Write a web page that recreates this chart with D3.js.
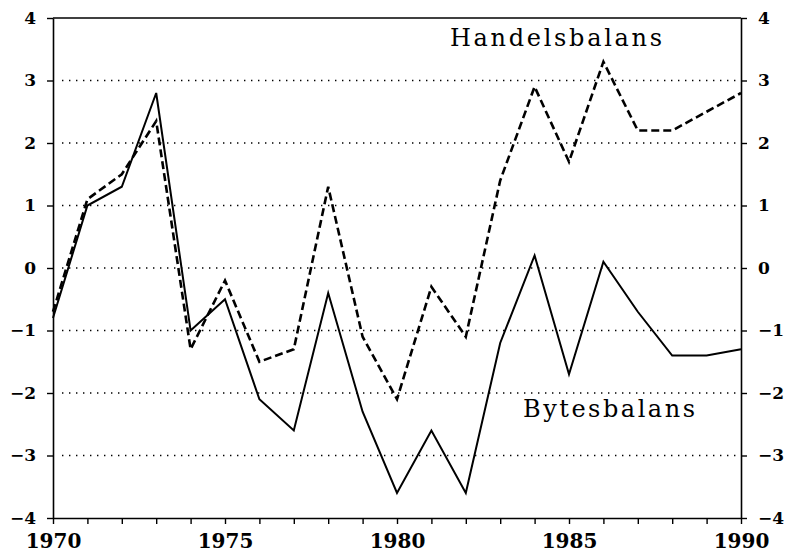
<!DOCTYPE html>
<html>
<head>
<meta charset="utf-8">
<script src="https://cdn.jsdelivr.net/npm/d3@7"></script>
<style>
  body { margin: 0; background: #fff; }
  svg { display: block; }
</style>
</head>
<body>
<div id="chart"></div>
<script>
// chart data
const years = d3.range(1970, 1991);
const bytesbalans = [-0.8, 1.0, 1.3, 2.8, -1.0, -0.5, -2.1, -2.6, -0.4, -2.3, -3.6,
                     -2.6, -3.6, -1.2, 0.2, -1.7, 0.1, -0.7, -1.4, -1.4, -1.3];
const handelsbalans = [-0.7, 1.1, 1.5, 2.35, -1.3, -0.2, -1.5, -1.3, 1.3, -1.1, -2.1,
                       -0.3, -1.1, 1.4, 2.9, 1.7, 3.3, 2.2, 2.2, 2.5, 2.8];
const yTicks = [-4, -3, -2, -1, 0, 1, 2, 3, 4];
const xLabels = [1970, 1975, 1980, 1985, 1990];

const width = 791, height = 555;
const margin = {top: 18, right: 50, bottom: 37, left: 53};
const w = width - margin.left - margin.right;
const h = height - margin.top - margin.bottom;

const svg = d3.select("#chart").append("svg")
    .attr("width", width)
    .attr("height", height);

const g = svg.append("g")
    .attr("transform", `translate(${margin.left},${margin.top})`);

const x = d3.scaleLinear().domain([1970, 1990]).range([0, w]);
const y = d3.scaleLinear().domain([-4, 4]).range([h, 0]);

// dotted grid
g.append("g")
    .selectAll("line")
    .data(yTicks.filter(d => d > -4 && d < 4))
    .enter().append("line")
    .attr("x1", 9).attr("x2", w)
    .attr("y1", d => y(d)).attr("y2", d => y(d))
    .attr("stroke", "#000")
    .attr("stroke-width", 1.4)
    .attr("stroke-dasharray", "1.4,5.6");

const fontFam = "'DejaVu Serif', 'Liberation Serif', serif";

// axes
const xAxis = g.append("g")
    .attr("transform", `translate(0,${h})`)
    .call(d3.axisBottom(x).tickValues(years).tickSize(6).tickSizeOuter(0)
        .tickFormat(d => xLabels.includes(d) ? d : ""));
xAxis.selectAll("text")
    .attr("dy", "1.05em")
    .style("font-family", fontFam)
    .style("font-weight", "bold")
    .style("font-size", "20px");

const yLeft = g.append("g")
    .call(d3.axisLeft(y).tickValues(yTicks).tickSize(6).tickSizeOuter(0)
        .tickFormat(d3.format("d")));
yLeft.selectAll("text")
    .attr("x", -17)
    .style("font-family", fontFam)
    .style("font-weight", "bold")
    .style("font-size", "17px");

const yRight = g.append("g")
    .attr("transform", `translate(${w},0)`)
    .call(d3.axisRight(y).tickValues(yTicks).tickSize(6).tickSizeOuter(0)
        .tickFormat(d3.format("d")));
yRight.selectAll("text")
    .attr("x", 17)
    .style("font-family", fontFam)
    .style("font-weight", "bold")
    .style("font-size", "17px");

// top border
g.append("line")
    .attr("x1", 0).attr("x2", w)
    .attr("y1", 0).attr("y2", 0)
    .attr("stroke", "#000").attr("stroke-width", 1.6);

g.selectAll(".domain").attr("stroke-width", 1.6);
g.selectAll(".tick line").attr("stroke-width", 1.4);

const line = d3.line()
    .x((d, i) => x(years[i]))
    .y(d => y(d));

g.append("path")
    .datum(handelsbalans)
    .attr("fill", "none")
    .attr("stroke", "#000")
    .attr("stroke-width", 2.6)
    .attr("stroke-dasharray", "8,4")
    .attr("d", line);

g.append("path")
    .datum(bytesbalans)
    .attr("fill", "none")
    .attr("stroke", "#000")
    .attr("stroke-width", 2)
    .attr("d", line);

// series labels
g.append("text")
    .attr("x", 450 - margin.left)
    .attr("y", 46 - margin.top)
    .attr("textLength", 212)
    .attr("lengthAdjust", "spacing")
    .style("font-family", fontFam)
    .style("font-size", "24px")
    .text("Handelsbalans");

g.append("text")
    .attr("x", 523 - margin.left)
    .attr("y", 417 - margin.top)
    .attr("textLength", 172)
    .attr("lengthAdjust", "spacing")
    .style("font-family", fontFam)
    .style("font-size", "24px")
    .text("Bytesbalans");
</script>
</body>
</html>
